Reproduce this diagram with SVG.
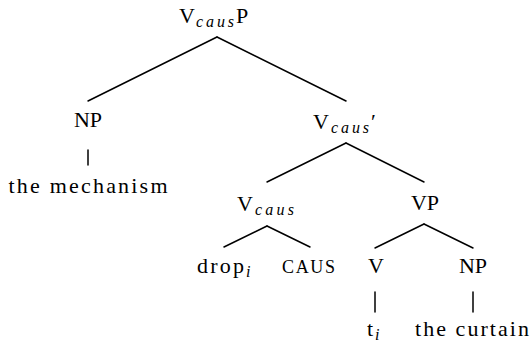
<svg xmlns="http://www.w3.org/2000/svg" width="532" height="344" viewBox="0 0 532 344">
<style>
text{font-size:22px;fill:#000}
.sub{font-style:italic;font-size:16px}
.sc{font-size:18px}
.m{text-anchor:middle}
#edges line{stroke:#000;stroke-width:1.5;stroke-linecap:round}
</style>
<rect width="532" height="344" fill="#fff"/>
<g id="edges">
<line x1="217" y1="37" x2="88" y2="101"/>
<line x1="217" y1="37" x2="346" y2="101"/>
<line x1="88" y1="150" x2="88" y2="165"/>
<line x1="346" y1="143" x2="267" y2="182"/>
<line x1="346" y1="143" x2="424" y2="182"/>
<line x1="267" y1="226" x2="224" y2="247"/>
<line x1="267" y1="226" x2="310" y2="247"/>
<line x1="424" y1="224" x2="375" y2="248"/>
<line x1="424" y1="224" x2="473" y2="248"/>
<line x1="375" y1="292" x2="375" y2="312"/>
<line x1="473" y1="292" x2="473" y2="312"/>
</g>
<g font-family="Liberation Serif, DejaVu Serif, Times New Roman, serif">
<g id="VcausP"><text y="23"><tspan x="179">V</tspan><tspan class="sub" x="196" y="27" textLength="38">caus</tspan><tspan x="236" y="23">P</tspan></text></g>
<g id="NP1"><text class="m" x="88" y="127">NP</text></g>
<g id="mechanism"><text class="m" x="88" y="193" textLength="159">the mechanism</text></g>
<g id="Vcausbar"><text y="129"><tspan x="313">V</tspan><tspan class="sub" x="331" y="133" textLength="38">caus</tspan><tspan x="371" y="129">′</tspan></text></g>
<g id="Vcaus"><text y="211"><tspan x="237">V</tspan><tspan class="sub" x="255" y="215" textLength="39">caus</tspan></text></g>
<g id="VP"><text class="m" x="425" y="210">VP</text></g>
<g id="drop"><text y="273"><tspan x="197" textLength="47">drop</tspan><tspan class="sub" x="246" y="277">i</tspan></text></g>
<g id="CAUS"><text class="sc" x="282" y="273" textLength="53">CAUS</text></g>
<g id="V"><text class="m" x="376" y="273">V</text></g>
<g id="NP2"><text class="m" x="473" y="273">NP</text></g>
<g id="trace"><text y="336"><tspan x="367">t</tspan><tspan class="sub" x="375" y="340">i</tspan></text></g>
<g id="curtain"><text class="m" x="472" y="336" textLength="114">the curtain</text></g>
</g>
</svg>
